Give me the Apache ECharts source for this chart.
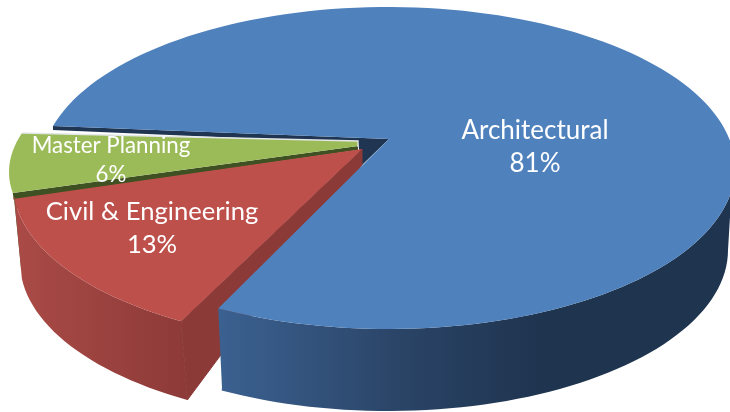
<!DOCTYPE html>
<html><head><meta charset="utf-8">
<style>html,body{margin:0;padding:0;background:#fff}#c{width:730px;height:412px}</style>
<script src="https://cdn.jsdelivr.net/npm/echarts@6/dist/echarts.min.js"></script>
</head><body><div id="c"></div>
<script>
var categories = ['Architectural', 'Civil & Engineering', 'Master Planning'];
var shares = [81, 13, 6];

var START_ANGLE = 195.1;
var LAYOUT = [
  { k: .9746, nudge: 0, apex: [389, 139], top: { cx: 388, cy: 168, rx: 347, ry: 161 }, low: { cx: 388, cy: 250, rx: 340, ry: 161 }, z: 3,
    face: '#4f81bd', font: 26, lh: 33, label: [535, 147.5] },
  { k: 1.152, nudge: 2.2, apex: [362, 149], top: { cx: 365, cy: 184, rx: 352, ry: 161 }, low: { cx: 365, cy: 262, rx: 345, ry: 161 }, z: 2,
    face: '#be504c', font: 25.6, lh: 33, label: [152, 228] },
  { k: 1.125, nudge: -3.9, apex: [358, 146], top: { cx: 354, cy: 172, rx: 345, ry: 143 }, low: null, z: 1,
    face: '#9bbb59', font: 22.3, lh: 29, label: [111, 160.5] }
];

function pt(e, a) {
  var r = a * Math.PI / 180;
  return [e.cx + e.rx * Math.cos(r), e.cy + e.ry * Math.sin(r)];
}
function arc(e, a, b) {
  var out = [], n = Math.max(8, Math.ceil(Math.abs(b - a) / 2));
  for (var i = 0; i <= n; i++) out.push(pt(e, a + (b - a) * i / n));
  return out;
}
function grad(x0, x1, stops) {
  return { type: 'linear', global: true, x: x0, y: 0, x2: x1, y2: 0,
    colorStops: stops.map(function (s) { return { offset: s[0], color: s[1] }; }) };
}
function poly(points, fill, z2, extra) {
  return { type: 'polygon', shape: { points: points }, z2: z2, silent: true,
    style: Object.assign({ fill: fill }, extra || {}) };
}

var total = shares.reduce(function (a, b) { return a + b; }, 0);
var starts = [], cursor = START_ANGLE;
shares.forEach(function (v, i) {
  var s = cursor + LAYOUT[i].nudge;
  var sweep = v / total * 360 * LAYOUT[i].k;
  starts.push([s, s + sweep]);
  cursor = s + sweep;
});

function renderSlice(params, api) {
  var i = params.dataIndex, L = LAYOUT[i], a0 = starts[i][0], a1 = starts[i][1];
  var c = [];
  var edge = arc(L.top, a0, a1);
  var first = edge[0], last = edge[edge.length - 1];
  if (i === 0) {
    // inner cut faces behind the gap, then the outer wall and the face
    c.push(poly([[first[0], first[1]], L.apex, [362, 165], [358, 143], [first[0], first[1] + 4]], '#1f3552', 0));
    var end = a1 - 360;
    var wallTop = arc(L.top, 8, end);
    var wallLow = arc(L.low, end, 0);
    c.push(poly(wallTop.concat([[222, 388]], wallLow), grad(218, 540, [[0, '#3b6191'], [.55, '#2b4568'], [1, '#1f344f']]), L.z));
    c.push(poly(edge.concat([L.apex]), L.face, L.z + .5));
  } else if (i === 1) {
    var rt = arc(L.top, a0, a1), rl = arc(L.low, a1 - 1.4, a0 - .5);
    c.push(poly(rt.concat(rl), grad(20, 190, [[0, '#a94a46'], [1, '#8c3a38']]), L.z));
    c.push(poly([L.apex, [362, 165], rl[rl.length - 1], first], '#8c3a38', L.z + .1, { stroke: '#8c3a38', lineWidth: 1 }));
    c.push(poly(edge.concat([[13, 199], L.apex]), L.face, L.z + .5));
  } else {
    var lo = first;
    c.push(poly([[lo[0] + 1, lo[1] + 3], [lo[0] + 3, lo[1] + 3], [23, 268], [21, 268]], '#4a5e29', L.z));
    c.push(poly([lo, L.apex, [358, 150], [lo[0] + 1, lo[1] + 7]], '#3f5122', L.z));
    c.push(poly(edge.concat([[358, 141], L.apex]), L.face, L.z + .5));
    c.push({ type: 'polyline', z2: L.z + .6, silent: true,
      shape: { points: [last, [358, 141], [358, 147]] },
      style: { fill: null, stroke: '#e4e6e8', lineWidth: 1.4 } });
  }
  c.push({ type: 'text', z2: 10, silent: true, x: L.label[0], y: L.label[1],
    style: { text: categories[i] + '\n' + Math.round(api.value(0) / total * 100) + '%',
      fill: '#ffffff', font: L.font + 'px Lato', lineHeight: L.lh, align: 'center', verticalAlign: 'middle' } });
  return { type: 'group', children: c };
}

var chart = echarts.init(document.getElementById('c'), null, { renderer: 'canvas' });
chart.setOption({
  backgroundColor: '#ffffff',
  animation: false,
  series: [{
    type: 'custom',
    coordinateSystem: 'none',
    renderItem: renderSlice,
    data: shares.map(function (v, i) { return { name: categories[i], value: [v] }; })
  }]
});
</script></body></html>
